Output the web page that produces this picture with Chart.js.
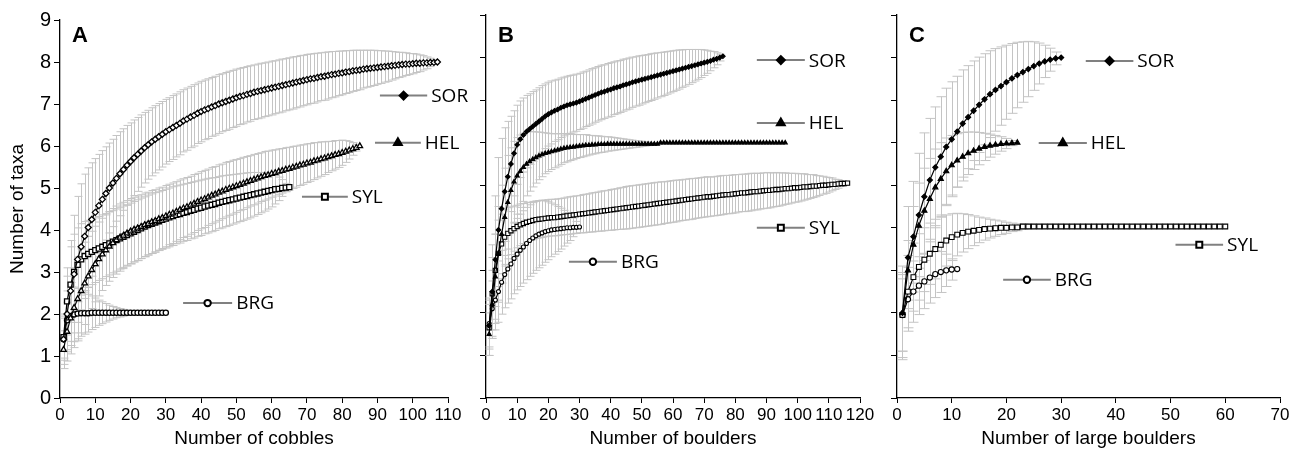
<!DOCTYPE html>
<html>
<head>
<meta charset="utf-8">
<script src="https://cdn.jsdelivr.net/npm/chart.js@4.4.1/dist/chart.umd.min.js"></script>
<style>
  body { margin: 0; background: #fff; }
  #wrap { position: relative; width: 1300px; height: 454px; overflow: hidden; background: #fff; }
  canvas { position: absolute; top: 0; }
</style>
</head>
<body>
<div id="wrap">
  <canvas id="chartA" width="480" height="454" style="left:0px"></canvas>
  <canvas id="chartB" width="415" height="454" style="left:465px"></canvas>
  <canvas id="chartC" width="420" height="454" style="left:880px"></canvas>
</div>
<script>
// ---- panel A: cobbles ----
const aSOR = [1.4,2.0,2.55,2.95,3.3,3.6,3.85,4.06,4.25,4.42,
  4.58,4.73,4.87,5.0,5.12,5.23,5.34,5.44,5.54,5.63,
  5.72,5.8,5.88,5.96,6.03,6.1,6.16,6.22,6.28,6.34,
  6.39,6.44,6.49,6.54,6.6,6.64,6.69,6.73,6.78,6.82,
  6.86,6.89,6.93,6.96,7.0,7.03,7.06,7.09,7.12,7.15,
  7.18,7.2,7.23,7.25,7.28,7.3,7.32,7.34,7.36,7.38,
  7.4,7.42,7.44,7.46,7.48,7.5,7.52,7.54,7.56,7.58,
  7.6,7.61,7.63,7.65,7.66,7.68,7.7,7.71,7.73,7.74,
  7.76,7.77,7.79,7.8,7.81,7.83,7.84,7.85,7.86,7.87,
  7.88,7.89,7.9,7.91,7.92,7.93,7.94,7.95,7.95,7.96,
  7.97,7.97,7.98,7.98,7.99,7.99,8.0];
const aSORsd = [0.5,0.9,1.2,1.4,1.5,1.5,1.48,1.42,1.35,1.28,
  1.22,1.16,1.11,1.07,1.04,1.02,1.0,0.97,0.95,0.92,
  0.9,0.88,0.86,0.84,0.82,0.81,0.8,0.79,0.78,0.77,
  0.76,0.76,0.75,0.75,0.74,0.74,0.73,0.73,0.72,0.72,
  0.71,0.71,0.7,0.7,0.7,0.69,0.69,0.69,0.68,0.68,
  0.67,0.67,0.66,0.66,0.65,0.65,0.65,0.64,0.64,0.64,
  0.63,0.63,0.63,0.62,0.62,0.62,0.61,0.61,0.6,0.6,
  0.59,0.59,0.58,0.57,0.57,0.56,0.55,0.54,0.53,0.52,
  0.51,0.5,0.49,0.48,0.47,0.45,0.44,0.43,0.42,0.4,
  0.39,0.37,0.36,0.34,0.32,0.3,0.29,0.27,0.25,0.24,
  0.22,0.2,0.17,0.14,0.1,0.05,0];
const aHEL = [1.15,1.58,1.9,2.15,2.36,2.55,2.73,2.9,3.05,3.19,
  3.31,3.42,3.52,3.61,3.69,3.76,3.82,3.87,3.92,3.97,
  4.01,4.04,4.08,4.12,4.15,4.19,4.22,4.26,4.29,4.33,
  4.37,4.4,4.44,4.48,4.52,4.55,4.59,4.63,4.67,4.71,
  4.74,4.78,4.82,4.85,4.89,4.92,4.96,4.99,5.02,5.05,
  5.08,5.11,5.14,5.17,5.2,5.23,5.26,5.29,5.31,5.34,
  5.36,5.39,5.41,5.44,5.46,5.49,5.51,5.54,5.56,5.59,
  5.61,5.64,5.66,5.69,5.71,5.74,5.76,5.79,5.81,5.84,
  5.87,5.9,5.93,5.96,6.0];
const aHELsd = [0.45,0.7,0.85,0.95,1.0,1.0,0.98,0.95,0.92,0.9,
  0.88,0.86,0.84,0.83,0.82,0.81,0.8,0.79,0.78,0.78,
  0.77,0.77,0.76,0.76,0.75,0.75,0.74,0.74,0.73,0.73,
  0.72,0.72,0.71,0.71,0.7,0.7,0.69,0.69,0.68,0.68,
  0.68,0.67,0.67,0.66,0.66,0.65,0.65,0.64,0.64,0.63,
  0.62,0.62,0.61,0.6,0.6,0.59,0.58,0.58,0.57,0.56,
  0.55,0.54,0.53,0.52,0.51,0.5,0.49,0.48,0.47,0.46,
  0.45,0.44,0.42,0.41,0.39,0.37,0.35,0.34,0.32,0.3,
  0.26,0.21,0.15,0.08,0];
const aSYL = [1.45,2.3,2.7,3.0,3.17,3.3,3.38,3.43,3.48,3.52,
  3.56,3.6,3.64,3.68,3.72,3.76,3.8,3.84,3.88,3.92,
  3.96,4.0,4.04,4.08,4.12,4.15,4.18,4.21,4.24,4.27,
  4.3,4.33,4.36,4.38,4.41,4.43,4.46,4.48,4.51,4.53,
  4.56,4.58,4.6,4.62,4.65,4.67,4.69,4.71,4.73,4.75,
  4.77,4.79,4.81,4.83,4.85,4.87,4.89,4.91,4.93,4.95,
  4.97,4.98,5.0,5.01,5.02];
const aSYLsd = [0.5,0.8,0.9,0.9,0.88,0.85,0.82,0.8,0.78,0.77,
  0.76,0.76,0.75,0.75,0.74,0.74,0.73,0.73,0.72,0.72,
  0.72,0.72,0.72,0.71,0.71,0.71,0.71,0.7,0.7,0.7,
  0.7,0.7,0.69,0.69,0.68,0.68,0.67,0.67,0.66,0.66,
  0.65,0.65,0.64,0.63,0.62,0.62,0.61,0.6,0.59,0.58,
  0.57,0.56,0.55,0.54,0.52,0.5,0.48,0.46,0.43,0.4,
  0.35,0.28,0.2,0.1,0];
const aBRG = [1.4,1.85,1.95,1.99,2.01,2.02,2.02,2.02,2.03,2.03,
  2.03,2.03,2.03,2.03,2.03,2.03,2.03,2.03,2.03,2.03,
  2.03,2.03,2.03,2.03,2.03,2.03,2.03,2.03,2.03,2.03];
const aBRGsd = [0.6,0.7,0.7,0.65,0.6,0.55,0.5,0.45,0.4,0.35,
  0.3,0.26,0.22,0.18,0.15,0.12,0.1,0.08,0.06,0.05,
  0.04,0.03,0.03,0.02,0.02,0.01,0.01,0,0,0];

// ---- panel B: boulders ----
const bSOR = [1.7,2.5,3.25,3.95,4.45,4.85,5.2,5.5,5.75,5.95,
  6.08,6.18,6.26,6.32,6.38,6.44,6.5,6.56,6.62,6.67,
  6.71,6.75,6.78,6.82,6.85,6.88,6.9,6.92,6.94,6.97,
  7.0,7.03,7.06,7.09,7.12,7.15,7.18,7.2,7.23,7.25,
  7.28,7.3,7.32,7.35,7.37,7.39,7.42,7.44,7.46,7.48,
  7.5,7.52,7.54,7.56,7.58,7.6,7.62,7.64,7.66,7.68,
  7.7,7.72,7.74,7.76,7.78,7.8,7.82,7.84,7.86,7.88,
  7.9,7.92,7.95,7.97,8.0,8.03];
const bSORsd = [0.5,1.1,1.5,1.7,1.65,1.5,1.3,1.12,1.0,0.93,
  0.9,0.87,0.85,0.83,0.82,0.8,0.79,0.78,0.76,0.75,
  0.74,0.72,0.71,0.7,0.69,0.68,0.68,0.67,0.67,0.66,
  0.66,0.65,0.65,0.65,0.64,0.64,0.64,0.63,0.63,0.63,
  0.62,0.62,0.61,0.61,0.6,0.6,0.59,0.58,0.58,0.57,
  0.56,0.55,0.55,0.54,0.53,0.52,0.51,0.5,0.49,0.48,
  0.47,0.46,0.44,0.43,0.41,0.39,0.37,0.35,0.33,0.3,
  0.27,0.23,0.19,0.14,0.08,0];
const bHEL = [1.5,2.2,2.85,3.4,3.85,4.25,4.6,4.88,5.08,5.22,
  5.33,5.42,5.5,5.56,5.61,5.65,5.69,5.72,5.75,5.77,
  5.79,5.81,5.83,5.85,5.87,5.88,5.89,5.9,5.91,5.92,
  5.93,5.94,5.94,5.95,5.95,5.96,5.96,5.96,5.97,5.97,
  5.97,5.97,5.97,5.97,5.97,5.97,5.97,5.97,5.97,5.97,
  5.97,5.97,5.97,5.97,5.97,6.0,6.0,6.0,6.0,6.0,
  6.0,6.0,6.0,6.0,6.0,6.0,6.0,6.0,6.0,6.0,
  6.0,6.0,6.0,6.0,6.0,6.0,6.0,6.0,6.0,6.0,
  6.0,6.0,6.0,6.0,6.0,6.0,6.0,6.0,6.0,6.0,
  6.0,6.0,6.0,6.0,6.0,6.0];
const bHELsd = [0.5,0.8,1.0,1.1,1.15,1.15,1.1,1.0,0.95,0.9,
  0.85,0.8,0.75,0.7,0.65,0.6,0.56,0.52,0.48,0.45,
  0.42,0.4,0.38,0.36,0.34,0.33,0.31,0.3,0.28,0.27,
  0.26,0.25,0.23,0.22,0.21,0.2,0.19,0.18,0.17,0.16,
  0.15,0.14,0.13,0.12,0.11,0.1,0.09,0.08,0.07,0.06,
  0.05,0.04,0.03,0.02,0.01,0,0,0,0,0,
  0,0,0,0,0,0,0,0,0,0,
  0,0,0,0,0,0,0,0,0,0,
  0,0,0,0,0,0,0,0,0,0,
  0,0,0,0,0,0];
const bSYL = [1.65,2.45,3.0,3.4,3.62,3.78,3.87,3.93,3.98,4.03,
  4.07,4.1,4.13,4.15,4.17,4.19,4.2,4.21,4.22,4.23,
  4.24,4.24,4.25,4.26,4.27,4.28,4.29,4.3,4.31,4.32,
  4.33,4.34,4.35,4.36,4.37,4.38,4.39,4.4,4.41,4.42,
  4.43,4.44,4.45,4.46,4.47,4.48,4.49,4.5,4.51,4.52,
  4.53,4.54,4.55,4.56,4.57,4.58,4.59,4.6,4.61,4.62,
  4.63,4.64,4.65,4.66,4.67,4.68,4.69,4.7,4.71,4.72,
  4.73,4.73,4.74,4.75,4.76,4.77,4.78,4.78,4.79,4.8,
  4.81,4.82,4.82,4.83,4.84,4.85,4.85,4.86,4.87,4.88,
  4.88,4.89,4.9,4.9,4.91,4.92,4.92,4.93,4.94,4.94,
  4.95,4.96,4.96,4.97,4.98,4.98,4.99,5.0,5.0,5.01,
  5.02,5.02,5.03,5.04,5.04,5.05];
const bSYLsd = [0.65,0.85,0.85,0.78,0.7,0.64,0.6,0.56,0.53,0.5,
  0.49,0.47,0.46,0.45,0.45,0.44,0.44,0.44,0.43,0.43,
  0.43,0.43,0.43,0.43,0.43,0.44,0.44,0.44,0.44,0.44,
  0.45,0.45,0.45,0.46,0.46,0.46,0.47,0.47,0.47,0.48,
  0.48,0.48,0.49,0.49,0.5,0.5,0.5,0.5,0.5,0.5,
  0.5,0.5,0.5,0.5,0.5,0.5,0.49,0.49,0.49,0.49,
  0.49,0.48,0.48,0.48,0.48,0.48,0.47,0.47,0.47,0.47,
  0.47,0.46,0.46,0.46,0.46,0.46,0.45,0.45,0.45,0.45,
  0.44,0.44,0.44,0.44,0.44,0.43,0.43,0.42,0.42,0.42,
  0.41,0.4,0.4,0.39,0.38,0.37,0.36,0.35,0.34,0.33,
  0.32,0.31,0.29,0.28,0.27,0.25,0.23,0.21,0.19,0.17,
  0.15,0.12,0.1,0.07,0.04,0];
const bBRG = [1.75,2.1,2.3,2.5,2.72,2.9,3.03,3.15,3.28,3.38,
  3.47,3.55,3.63,3.7,3.76,3.81,3.85,3.88,3.91,3.93,
  3.95,3.96,3.97,3.98,3.99,4.0,4.0,4.01,4.01,4.02];
const bBRGsd = [0.6,0.65,0.7,0.72,0.75,0.78,0.8,0.82,0.83,0.84,
  0.85,0.85,0.85,0.84,0.83,0.81,0.79,0.76,0.72,0.68,
  0.63,0.58,0.53,0.48,0.42,0.36,0.3,0.22,0.14,0];

// ---- panel C: large boulders ----
const cSOR = [2.0,3.3,3.79,4.3,4.73,5.12,5.42,5.67,5.9,6.08,
  6.26,6.45,6.6,6.75,6.89,7.02,7.14,7.24,7.33,7.42,
  7.51,7.59,7.66,7.73,7.8,7.86,7.91,7.95,7.98,8.0];
const cSORsd = [1.1,1.2,1.3,1.45,1.5,1.45,1.42,1.41,1.38,1.35,
  1.3,1.26,1.21,1.17,1.12,1.07,1.02,0.97,0.92,0.87,
  0.82,0.77,0.71,0.65,0.57,0.48,0.38,0.27,0.15,0];
const cHEL = [2.0,3.0,3.6,4.05,4.4,4.68,4.95,5.15,5.33,5.47,
  5.58,5.67,5.75,5.81,5.86,5.9,5.93,5.95,5.97,5.98,
  5.99,6.0];
const cHELsd = [0.9,0.7,0.9,1.0,1.0,0.95,0.9,0.85,0.78,0.7,
  0.63,0.57,0.5,0.44,0.38,0.32,0.27,0.22,0.17,0.12,
  0.06,0];
const cSYL = [1.95,2.5,2.84,3.08,3.25,3.39,3.5,3.6,3.7,3.78,
  3.84,3.88,3.91,3.93,3.95,3.97,3.98,3.99,4.0,4.0,
  4.01,4.01,4.03,4.03,4.03,4.03,4.03,4.03,4.03,4.03,
  4.03,4.03,4.03,4.03,4.03,4.03,4.03,4.03,4.03,4.03,
  4.03,4.03,4.03,4.03,4.03,4.03,4.03,4.03,4.03,4.03,
  4.03,4.03,4.03,4.03,4.03,4.03,4.03,4.03,4.03,4.03];
const cSYLsd = [1.0,0.85,0.8,0.78,0.75,0.72,0.7,0.65,0.6,0.55,
  0.5,0.45,0.4,0.35,0.3,0.26,0.22,0.19,0.16,0.13,
  0.1,0.08,0.06,0.05,0.04,0.03,0.03,0.03,0.03,0.03,
  0.03,0.02,0.02,0,0,0,0,0,0,0,
  0,0,0,0,0,0,0,0,0,0,
  0,0,0,0,0,0,0,0,0,0];
const cBRG = [1.95,2.32,2.5,2.64,2.74,2.83,2.91,2.96,3.0,3.02,3.03];
const cBRGsd = [0.85,0.75,0.72,0.68,0.64,0.6,0.55,0.48,0.38,0.25,0];

const yTicks = [0, 9, 1];      // min, max, step
const siteNames = ['SOR', 'HEL', 'SYL', 'BRG'];

const SANS = "'Liberation Sans', Arial, sans-serif";

// grey error bars with caps, drawn under the curves
const errorBars = {
  id: 'errorBars',
  beforeDatasetsDraw(chart, args, opts) {
    const { ctx, scales: { x, y } } = chart;
    ctx.save();
    ctx.strokeStyle = opts.color;
    ctx.lineWidth = 1;
    chart.data.datasets.forEach(ds => {
      ds.data.forEach((p, i) => {
        const e = ds.errors[i];
        if (!e) return;
        const px = Math.round(x.getPixelForValue(p.x)) + 0.5;
        const lo = y.getPixelForValue(p.y - e);
        const hi = y.getPixelForValue(p.y + e);
        const w = opts.cap;
        ctx.beginPath();
        ctx.moveTo(px, lo); ctx.lineTo(px, hi);
        ctx.moveTo(px - w, lo); ctx.lineTo(px + w, lo);
        ctx.moveTo(px - w, hi); ctx.lineTo(px + w, hi);
        ctx.stroke();
      });
    });
    ctx.restore();
  }
};

// in-plot labels (line + marker + site name) and the panel letter
const tags = {
  id: 'tags',
  afterDatasetsDraw(chart, args, opts) {
    const { ctx, scales: { x, y }, chartArea } = chart;
    ctx.save();
    opts.items.forEach(it => {
      const x1 = x.getPixelForValue(it.x1), x2 = x.getPixelForValue(it.x2);
      const py = y.getPixelForValue(it.y);
      ctx.strokeStyle = '#808080';
      ctx.lineWidth = 2;
      ctx.beginPath(); ctx.moveTo(x1, py); ctx.lineTo(x2, py); ctx.stroke();
      ctx.strokeStyle = '#000';
      ctx.fillStyle = it.filled ? '#000' : '#fff';
      Chart.helpers.drawPoint(ctx, { pointStyle: it.style, radius: it.r, borderWidth: it.filled ? 1 : 2, rotation: 0 }, (x1 + x2) / 2, py);
      ctx.fillStyle = '#000';
      ctx.font = "19px 'Open Sans', sans-serif";
      ctx.textAlign = 'left';
      ctx.textBaseline = 'middle';
      ctx.fillText(it.label, x2 + 4, py + 1);
    });
    ctx.font = 'bold 22px ' + SANS;
    ctx.textAlign = 'left';
    ctx.textBaseline = 'middle';
    ctx.fillStyle = '#000';
    ctx.fillText(opts.letter, chartArea.left + 12, 36);
    ctx.restore();
  }
};

function panel(id, cfg) {
  const datasets = cfg.series.map(s => ({
    label: s.name,
    data: s.values.map((v, i) => ({ x: i + 1, y: v })),
    errors: s.sd,
    borderColor: '#000',
    borderWidth: 1.2,
    tension: 0,
    pointStyle: s.style,
    pointRadius: s.r,
    pointBorderWidth: cfg.pointBorder,
    pointBorderColor: '#000',
    pointBackgroundColor: s.filled ? '#000' : '#fff'
  }));
  return new Chart(document.getElementById(id), {
    type: 'line',
    data: { datasets },
    options: {
      responsive: false,
      animation: false,
      devicePixelRatio: 1,
      layout: { padding: { top: cfg.top, right: cfg.right, left: 0, bottom: 0 } },
      plugins: {
        legend: { display: false },
        tooltip: { enabled: false },
        errorBars: { color: '#c4c4c4', cap: cfg.cap },
        tags: { items: cfg.tags, letter: cfg.letter }
      },
      scales: {
        x: {
          type: 'linear', min: 0, max: cfg.xmax,
          afterFit(s) { s.height = 56; },
          ticks: { stepSize: 10, autoSkip: false, maxRotation: 0, color: '#000', padding: 2, font: { family: SANS, size: 17 } },
          grid: { drawOnChartArea: false, drawTicks: true, tickLength: 5, color: '#000' },
          border: { color: '#000', width: 1.3 },
          title: { display: true, text: cfg.xTitle, color: '#000', padding: { top: 5 }, font: { family: SANS, size: 19 } }
        },
        y: {
          min: yTicks[0], max: yTicks[1],
          afterFit(s) { s.width = cfg.yWidth; },
          ticks: { stepSize: yTicks[2], color: cfg.yLabels ? '#000' : 'rgba(0,0,0,0)', padding: 3, font: { family: SANS, size: 20 } },
          grid: { drawOnChartArea: false, drawTicks: true, tickLength: 6, color: '#000' },
          border: { color: '#000', width: 1.3 },
          title: { display: !!cfg.yTitle, text: cfg.yTitle || '', color: '#000', padding: { top: 6, bottom: 0 }, font: { family: SANS, size: 19 } }
        }
      }
    },
    plugins: [errorBars, tags]
  });
}

panel('chartA', {
  letter: 'A', xmax: 110, xTitle: 'Number of cobbles', yTitle: 'Number of taxa', yLabels: true,
  yWidth: 60, top: 20, right: 32, cap: 4, pointBorder: 1.3,
  series: [
    { name: siteNames[0], values: aSOR, sd: aSORsd, style: 'rectRot', r: 3, filled: false },
    { name: siteNames[1], values: aHEL, sd: aHELsd, style: 'triangle', r: 3.2, filled: false },
    { name: siteNames[2], values: aSYL, sd: aSYLsd, style: 'rect', r: 3.6, filled: false },
    { name: siteNames[3], values: aBRG, sd: aBRGsd, style: 'circle', r: 2.6, filled: false }
  ],
  tags: [
    { label: 'SOR', x1: 90.7, x2: 104.1, y: 7.2, style: 'rectRot', r: 4, filled: true },
    { label: 'HEL', x1: 89.3, x2: 102.3, y: 6.08, style: 'triangle', r: 4.5, filled: true },
    { label: 'SYL', x1: 68.6, x2: 81.6, y: 4.79, style: 'rect', r: 4.2, filled: false },
    { label: 'BRG', x1: 34.9, x2: 48.8, y: 2.26, style: 'circle', r: 3.2, filled: false }
  ]
});

panel('chartB', {
  letter: 'B', xmax: 120, xTitle: 'Number of boulders', yLabels: false,
  yWidth: 21, top: 15, right: 20, cap: 4, pointBorder: 1.1,
  series: [
    { name: siteNames[0], values: bSOR, sd: bSORsd, style: 'rectRot', r: 2.3, filled: true },
    { name: siteNames[1], values: bHEL, sd: bHELsd, style: 'triangle', r: 2.4, filled: true },
    { name: siteNames[2], values: bSYL, sd: bSYLsd, style: 'rect', r: 3, filled: false },
    { name: siteNames[3], values: bBRG, sd: bBRGsd, style: 'circle', r: 2, filled: false }
  ],
  tags: [
    { label: 'SOR', x1: 86.9, x2: 102.3, y: 7.94, style: 'rectRot', r: 4, filled: true },
    { label: 'HEL', x1: 86.9, x2: 102.3, y: 6.46, style: 'triangle', r: 4.5, filled: true },
    { label: 'SYL', x1: 86.9, x2: 102.3, y: 4.0, style: 'rect', r: 4.2, filled: false },
    { label: 'BRG', x1: 26.6, x2: 42.0, y: 3.2, style: 'circle', r: 3.2, filled: false }
  ]
});

panel('chartC', {
  letter: 'C', xmax: 70, xTitle: 'Number of large boulders', yLabels: false,
  yWidth: 17, top: 15, right: 20, cap: 5, pointBorder: 1.1,
  series: [
    { name: siteNames[0], values: cSOR, sd: cSORsd, style: 'rectRot', r: 2.6, filled: true },
    { name: siteNames[1], values: cHEL, sd: cHELsd, style: 'triangle', r: 3, filled: true },
    { name: siteNames[2], values: cSYL, sd: cSYLsd, style: 'rect', r: 3.4, filled: false },
    { name: siteNames[3], values: cBRG, sd: cBRGsd, style: 'circle', r: 2.6, filled: false }
  ],
  tags: [
    { label: 'SOR', x1: 34.5, x2: 43.2, y: 7.92, style: 'rectRot', r: 4, filled: true },
    { label: 'HEL', x1: 25.9, x2: 34.7, y: 5.99, style: 'triangle', r: 4.5, filled: true },
    { label: 'SYL', x1: 50.9, x2: 59.6, y: 3.6, style: 'rect', r: 4.2, filled: false },
    { label: 'BRG', x1: 19.4, x2: 28.1, y: 2.78, style: 'circle', r: 3.2, filled: false }
  ]
});
</script>
</body>
</html>
